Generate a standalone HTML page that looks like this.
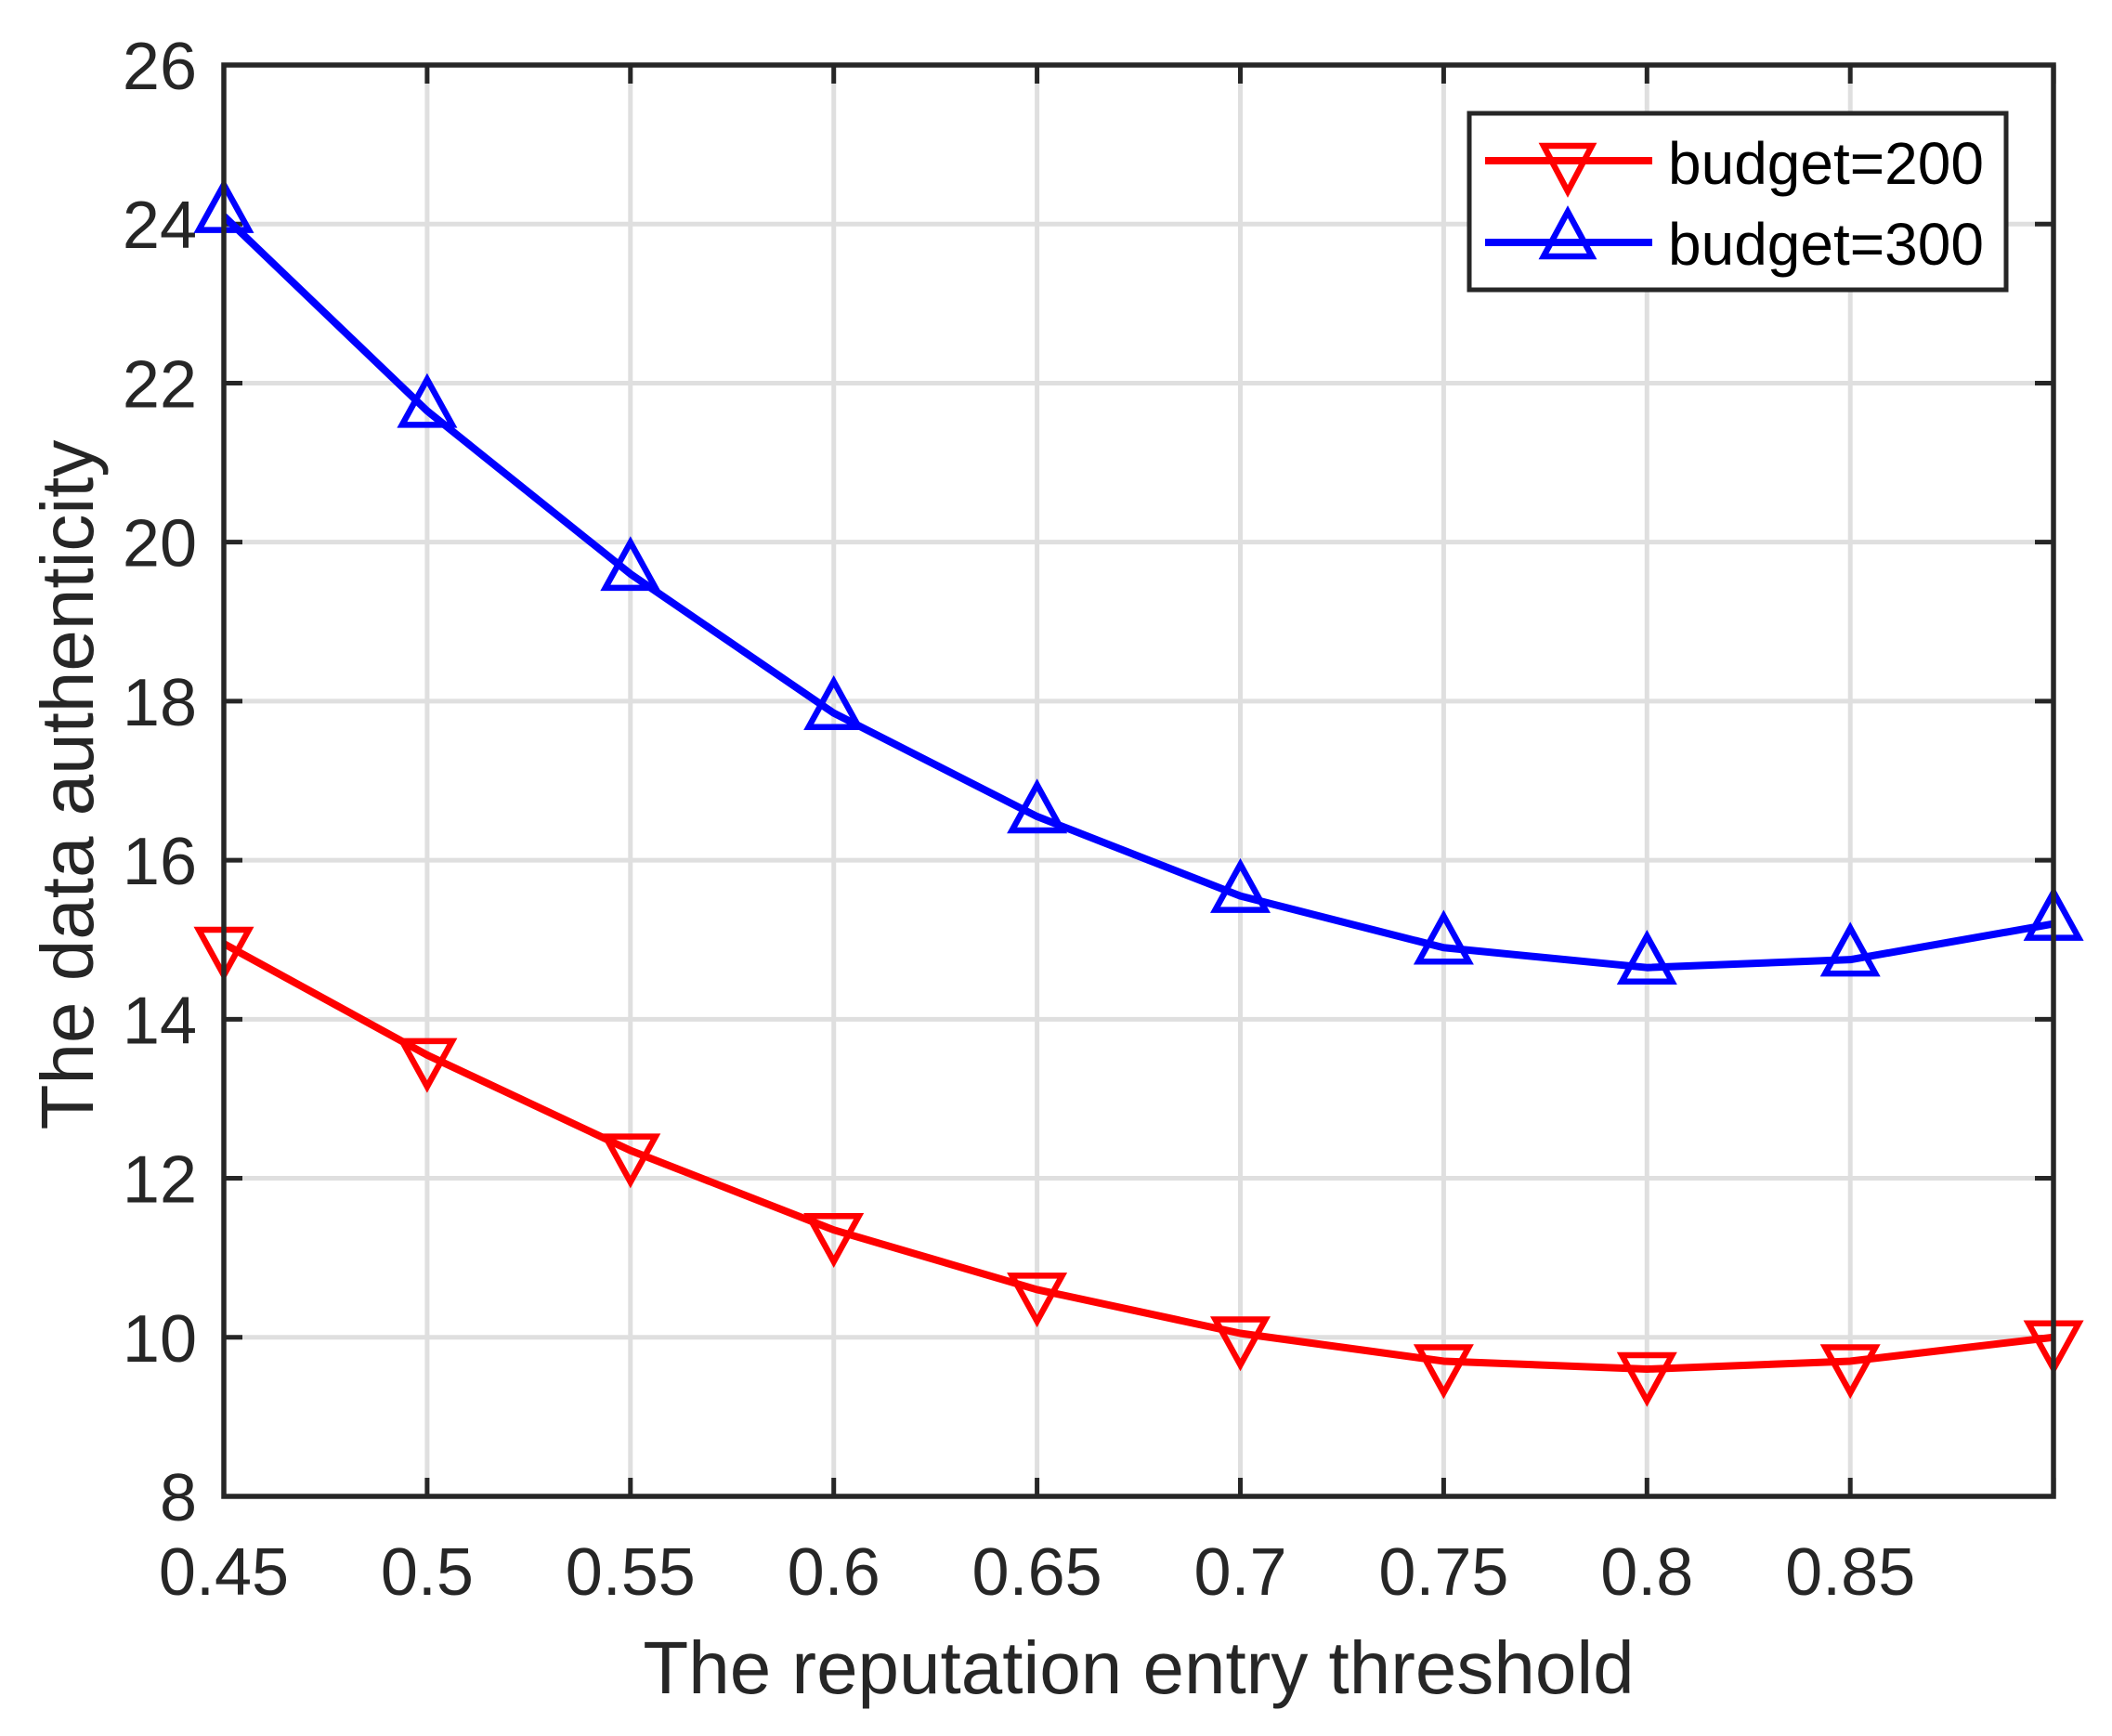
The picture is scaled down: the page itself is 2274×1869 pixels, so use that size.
<!DOCTYPE html>
<html><head><meta charset="utf-8"><style>html,body{margin:0;padding:0;background:#fff}svg{display:block}</style></head>
<body>
<svg id="s" width="2274" height="1869" viewBox="0 0 2274 1869" xmlns="http://www.w3.org/2000/svg" font-family="Liberation Sans, Arial, sans-serif" fill="#262626">
<rect width="2274" height="1869" fill="#fff"/>
<g id="grid" stroke="#dfdfdf" stroke-width="5"></g>
<g id="ticks" stroke="#262626" stroke-width="5"></g>
<g id="labels" font-size="72"></g>
<g id="series"></g>
<rect x="241" y="70" width="1970" height="1541" fill="none" stroke="#262626" stroke-width="5.5"/>
<text x="1226" y="1823" font-size="80" text-anchor="middle">The reputation entry threshold</text>
<text transform="translate(100,845) rotate(-90)" font-size="80" text-anchor="middle">The data authenticity</text>
<rect x="1582" y="122" width="578" height="190" fill="#fff" stroke="#262626" stroke-width="5"/>
<line x1="1599" y1="173" x2="1779" y2="173" stroke="#ff0000" stroke-width="8"/>
<polygon points="1662,157 1714,157 1688,206" fill="none" stroke="#ff0000" stroke-width="6.5"/>
<line x1="1599" y1="261" x2="1779" y2="261" stroke="#0000ff" stroke-width="8"/>
<polygon points="1662,276 1714,276 1688,228" fill="none" stroke="#0000ff" stroke-width="6.5"/>
<text x="1796" y="198" font-size="64" fill="#000">budget=200</text>
<text x="1796" y="285" font-size="64" fill="#000">budget=300</text>
</svg>
<script>
var NS="http://www.w3.org/2000/svg";
function X(v){return 241+(v-0.45)/0.05*218.9}
function Y(v){return 1611-(v-8)*85.61}
function el(p,t,a,txt){var e=document.createElementNS(NS,t);for(var k in a)e.setAttribute(k,a[k]);if(txt!=null)e.textContent=txt;document.getElementById(p).appendChild(e);return e}
var xs=[0.45,0.5,0.55,0.6,0.65,0.7,0.75,0.8,0.85,0.9];
var xl=["0.45","0.5","0.55","0.6","0.65","0.7","0.75","0.8","0.85"];
for(var i=0;i<10;i++){var x=X(xs[i]);
 if(i>0&&i<9)el("grid","line",{x1:x,y1:70,x2:x,y2:1611});
 el("ticks","line",{x1:x,y1:1611,x2:x,y2:1591});el("ticks","line",{x1:x,y1:70,x2:x,y2:90});
 if(i<9)el("labels","text",{x:x,y:1717,"text-anchor":"middle"},xl[i]);}
for(var v=8;v<=26;v+=2){var y=Y(v);
 if(v>8&&v<26)el("grid","line",{x1:241,y1:y,x2:2211,y2:y});
 el("ticks","line",{x1:241,y1:y,x2:261,y2:y});el("ticks","line",{x1:2211,y1:y,x2:2191,y2:y});
 el("labels","text",{x:212,y:y+26,"text-anchor":"end"},String(v));}
var blue=[24.1,21.65,19.6,17.85,16.55,15.55,14.9,14.65,14.75,15.2];
var red=[14.95,13.55,12.35,11.35,10.6,10.05,9.7,9.6,9.7,10.0];
function draw(d,c,up){var pts=d.map(function(v,i){return X(xs[i])+","+Y(v)}).join(" ");
 el("series","polyline",{points:pts,fill:"none",stroke:c,"stroke-width":8,"stroke-linejoin":"round"});
 d.forEach(function(v,i){var x=X(xs[i]),y=Y(v),p;
  if(up)p=[x-27,y+15,x+27,y+15,x,y-34];else p=[x-27,y-15,x+27,y-15,x,y+34];
  el("series","polygon",{points:p.join(","),fill:"none",stroke:c,"stroke-width":6.5});});}
draw(red,"#ff0000",false);draw(blue,"#0000ff",true);
</script>
</body></html>
